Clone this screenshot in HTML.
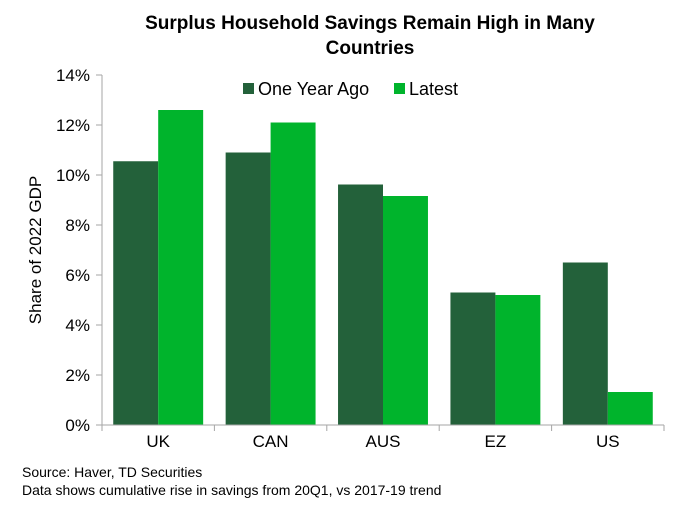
<!DOCTYPE html>
<html><head><meta charset="utf-8"><style>
body{margin:0;background:#fff;}
svg{display:block;font-family:"Liberation Sans",Arial,sans-serif;}
</style></head><body>
<svg id="chart" width="680" height="510">
<text x="370" y="29" text-anchor="middle" font-size="19" font-weight="bold">Surplus Household Savings Remain High in Many</text>
<text x="370" y="54" text-anchor="middle" font-size="19" font-weight="bold">Countries</text>
<text transform="translate(41,250) rotate(-90)" text-anchor="middle" font-size="17">Share of 2022 GDP</text>
<g id="legend">
<rect x="243" y="83" width="11" height="11" fill="#23613a"/>
<text x="258" y="95" font-size="18">One Year Ago</text>
<rect x="394" y="83" width="11" height="11" fill="#00b42c"/>
<text x="409" y="95" font-size="18">Latest</text>
</g>
<g id="grid"></g>
<g id="bars"></g>
<text x="22" y="477" font-size="14">Source: Haver, TD Securities</text>
<text x="22" y="495" font-size="14">Data shows cumulative rise in savings from 20Q1, vs 2017-19 trend</text>
</svg>
<script>
const categories=["UK","CAN","AUS","EZ","US"];
const oneYearAgo=[10.55,10.9,9.62,5.3,6.5];
const latest=[12.6,12.1,9.16,5.2,1.32];
const yTicks=[0,2,4,6,8,10,12,14];
const NS="http://www.w3.org/2000/svg";
const x0=102,x1=664,y0=425,yTop=75,yMax=14;
const band=(x1-x0)/categories.length;
const bw=band*0.4;
function y(v){return y0-(v/yMax)*(y0-yTop);}
function xc(i){return x0+band*(i+0.5);}
function mk(tag,attrs,parent){const e=document.createElementNS(NS,tag);for(const k in attrs)e.setAttribute(k,attrs[k]);parent.appendChild(e);return e;}
const g=document.getElementById('grid'),b=document.getElementById('bars');
let l=mk('line',{x1:x0,y1:yTop,x2:x0,y2:y0,stroke:'#a6a6a6','stroke-width':1},g);


yTicks.forEach(t=>{
 let tk=mk('line',{x1:x0-6,y1:y(t),x2:x0,y2:y(t),stroke:'#a6a6a6'},g);
 
 
 let tx=mk('text',{x:x0-12,y:y(t)+6,'text-anchor':'end','font-size':17},g);
 tx.textContent=t+'%';
 
 
});
categories.forEach((c,i)=>{
 let r1=mk('rect',{x:xc(i)-bw,y:y(oneYearAgo[i]),width:bw,height:y0-y(oneYearAgo[i]),fill:'#23613a'},b);
 
 
 let r2=mk('rect',{x:xc(i),y:y(latest[i]),width:bw,height:y0-y(latest[i]),fill:'#00b42c'},b);
 
 
 let tx=mk('text',{x:xc(i),y:447,'text-anchor':'middle','font-size':17},g);
 tx.textContent=c;
 
 
});
for(let i=0;i<=categories.length;i++){
 let tk=mk('line',{x1:x0+band*i,y1:y0,x2:x0+band*i,y2:y0+6,stroke:'#a6a6a6'},g);
 
 
}
let xa=mk('line',{x1:x0,y1:y0,x2:x1,y2:y0,stroke:'#a6a6a6'},b);


</script>
</body></html>
